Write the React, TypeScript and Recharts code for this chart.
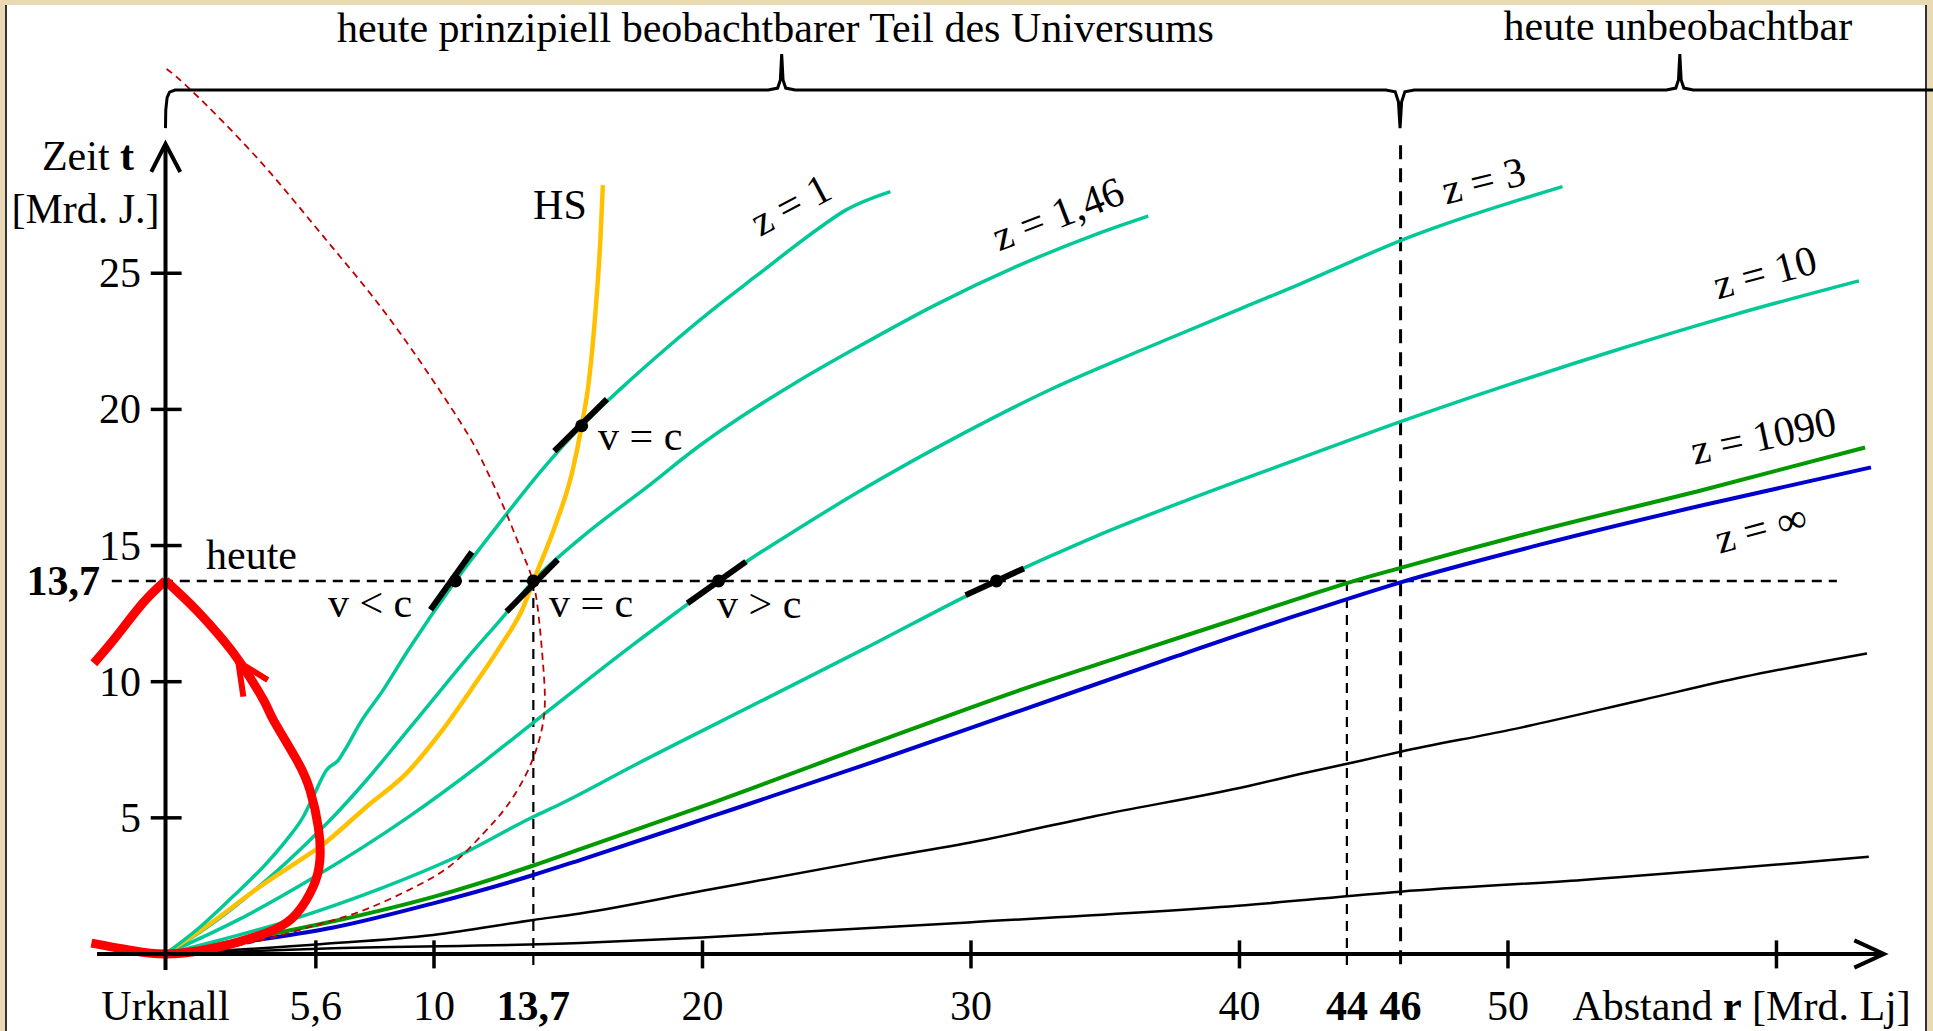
import React from 'react';
import { ComposedChart, Line, XAxis, YAxis, ReferenceLine, ReferenceDot } from 'recharts';

const W = 1933;
const H = 1031;
const FONT = "'Liberation Serif', 'Times New Roman', serif";

// r = Abstand [Mrd. Lj], t = Zeit [Mrd. J.]
const rDomain: [number, number] = [-6.164, 65.83];
const tDomain: [number, number] = [-2.828, 35.035];

const rTicks = [5.6, 10, 20, 30, 40, 50, 60];
const tTicks = [5, 10, 15, 20, 25];
const rLabelVals = [0, 5.6, 10, 13.7, 20, 30, 40, 44, 46, 50];
const rLabelText = ['Urknall', '5,6', '10', '13,7', '20', '30', '40', '44', '46', '50'];
const rLabelBold = [false, false, false, true, false, false, false, true, true, false];

const T_NOW = 13.7;

// world lines of galaxies (redshift z seen today)
const z1R = [0, 1.3, 2.5, 3.64, 4.51, 5.13, 5.5, 6.0, 6.44, 6.75, 7.24, 8.11, 9.0, 10.8, 12.5, 14.0, 15.5, 17.0, 18.6, 20.3, 22.0, 24.4, 25.3, 27.0];
const z1T = [0, 1.0, 2.1, 3.2, 4.19, 5.04, 5.78, 6.76, 7.12, 7.61, 8.47, 9.7, 11.1, 13.7, 15.9, 17.75, 19.4, 20.8, 22.2, 23.6, 24.9, 26.7, 27.3, 28.0];

const z146R = [0, 1.5, 3.77, 5.26, 6.25, 7.49, 8.73, 9.97, 11.22, 12.5, 13.7, 15.5, 18.0, 19.8, 21.4, 23.5, 25.8, 28.7, 31.7, 34.7, 36.6];
const z146T = [0, 0.95, 2.72, 4.07, 5.04, 6.39, 7.86, 9.35, 10.85, 12.3, 13.7, 15.3, 17.2, 18.6, 19.7, 21.0, 22.3, 23.85, 25.25, 26.45, 27.1];

const z3R = [0, 2.5, 5.5, 9.0, 11.84, 13.7, 15.44, 17.54, 19.44, 20.6, 21.7, 23.37, 25.86, 29.68, 33.0, 36.4, 40.16, 42.25, 44.1, 46.0, 47.36, 52.03];
const z3T = [0, 1.15, 2.8, 5.0, 7.05, 8.5, 9.85, 11.45, 12.85, 13.7, 14.45, 15.5, 17.0, 19.1, 20.75, 22.2, 23.75, 24.6, 25.4, 26.2, 26.7, 28.18];

const z10R = [0, 4.5, 8.0, 10.84, 13.7, 14.69, 17.5, 22.29, 26.09, 29.89, 30.95, 32.93, 34.67, 38, 42.25, 46, 50, 54.1, 58.5, 63.07];
const z10T = [0, 1.2, 2.4, 3.57, 5.04, 5.5, 6.95, 9.34, 11.24, 13.18, 13.7, 14.6, 15.35, 16.65, 18.2, 19.55, 20.9, 22.2, 23.5, 24.72];

const z1090R = [0, 3, 6.25, 9.97, 13.7, 15.44, 20.39, 26.09, 31.79, 35.59, 40.34, 42.25, 44.1, 46, 51.27, 57.29, 63.3];
const z1090T = [0, 0.55, 1.2, 2.1, 3.25, 3.85, 5.56, 7.64, 9.68, 10.92, 12.45, 13.07, 13.65, 14.18, 15.58, 17.05, 18.6];

const zInfR = [0, 3, 6.25, 9.97, 13.7, 15.44, 20.39, 26.09, 31.79, 37.49, 42.25, 46, 51.27, 57.29, 63.52];
const zInfT = [0, 0.45, 0.97, 1.86, 2.9, 3.45, 5.07, 6.96, 8.92, 10.88, 12.47, 13.65, 15.05, 16.49, 17.87];

const upperR = [0, 5.75, 9.97, 13.7, 15.44, 20.01, 26.09, 30.26, 34.64, 40.34, 42.25, 44.48, 46, 50.07, 55.0, 58.79, 63.37];
const upperT = [0, 0.36, 0.7, 1.25, 1.49, 2.32, 3.42, 4.15, 5.07, 6.17, 6.61, 7.09, 7.43, 8.23, 9.33, 10.18, 11.04];

const lowerR = [0, 6.25, 15.44, 20.01, 29.89, 39.94, 46, 52.78, 63.44];
const lowerT = [0, 0.21, 0.4, 0.61, 1.16, 1.77, 2.29, 2.72, 3.57];

// Hubble-Sphäre
const hsR = [0, 1.5, 3.52, 5.01, 5.75, 7.49, 8.98, 10.22, 11.46, 12.46, 13.33, 13.7, 14.54, 15.16, 15.5, 15.77, 16.02, 16.2, 16.29];
const hsT = [0, 1.0, 2.47, 3.45, 3.94, 5.41, 6.64, 8.1, 9.82, 11.29, 12.75, 13.7, 15.8, 17.75, 19.4, 21.04, 23.65, 26.28, 28.24];

// thin dashed red curve
const coneR = [0.04, 1.02, 3.48, 5.94, 8.4, 10.86, 11.8, 12.6, 13.2, 13.55, 13.75, 13.9, 14.07, 14.12, 13.9, 13.45, 12.7, 11.84, 10.72, 9.36, 7.49, 5.75, 3.77, 1.9, 0];
const coneT = [32.5, 31.66, 29.16, 26.28, 23.26, 19.72, 18.1, 16.4, 14.95, 14.1, 13.4, 12.4, 10.55, 9.0, 7.8, 6.64, 5.41, 4.43, 3.33, 2.5, 1.65, 1.1, 0.55, 0.18, 0];

// thick red past light cone
const pastLeftR = [-2.67, -1.84, -0.85, 0];
const pastLeftT = [10.68, 11.65, 12.88, 13.71];
const pastRightR = [0, 1.15, 2.15, 2.8, 3.65, 4.02, 4.89, 5.38, 5.69, 5.75, 5.5, 4.89, 4.02, 2.53, 1.28, 0, -1.2, -2.76];
const pastRightT = [13.71, 12.63, 11.53, 10.68, 9.33, 8.59, 7.12, 6.02, 4.67, 3.45, 2.47, 1.49, 0.88, 0.39, 0.12, 0, 0.12, 0.4];
const arrowR = [2.9, 2.71, 3.81];
const arrowT = [9.45, 10.73, 10.06];

// marked points with their short tangent bars
const markR = [10.8, 13.7, 15.5, 20.6, 30.95];
const markT = [13.7, 13.7, 19.4, 13.7, 13.7];
const barR0 = [9.87, 12.7, 14.48, 19.44, 29.8];
const barT0 = [12.64, 12.57, 18.47, 12.88, 13.18];
const barR1 = [11.41, 14.61, 16.44, 21.62, 31.97];
const barT1 = [14.76, 14.48, 20.38, 14.41, 14.16];

// braces along the top
const braceR = [0, 0.01, 0.06, 0.15, 0.35, 22.45, 22.8, 22.9, 22.95, 23.0, 23.1, 23.45, 45.45, 45.8, 45.92, 45.98, 46.04, 46.16, 46.51, 55.9, 56.25, 56.35, 56.4, 56.45, 56.55, 56.9, 65.83];
const braceT = [30.33, 31.0, 31.45, 31.65, 31.73, 31.73, 31.8, 32.1, 33.05, 32.1, 31.8, 31.73, 31.73, 31.66, 31.3, 30.33, 31.3, 31.66, 31.73, 31.73, 31.8, 32.1, 33.05, 32.1, 31.8, 31.73, 31.73];

const zip = (r: number[], t: number[]) => r.map((x, i) => ({ x, y: t[i] }));

const TEAL = '#00C896';

const curves = [
  { id: 'lower', r: lowerR, t: lowerT, color: '#000', w: 2.5 },
  { id: 'upper', r: upperR, t: upperT, color: '#000', w: 2.5 },
  { id: 'zinf', r: zInfR, t: zInfT, color: '#0000CC', w: 4 },
  { id: 'z1090', r: z1090R, t: z1090T, color: '#009900', w: 4 },
  { id: 'z10', r: z10R, t: z10T, color: TEAL, w: 3.5 },
  { id: 'z3', r: z3R, t: z3T, color: TEAL, w: 3.5 },
  { id: 'z146', r: z146R, t: z146T, color: TEAL, w: 3.5 },
  { id: 'hs', r: hsR, t: hsT, color: '#FFC000', w: 4.5 },
  { id: 'z1', r: z1R, t: z1T, color: TEAL, w: 3.5 },
  { id: 'cone', r: coneR, t: coneT, color: '#C00000', w: 1.8, type: 'natural', dash: '7 5' },
  { id: 'pastL', r: pastLeftR, t: pastLeftT, color: '#FF0000', w: 9, type: 'natural' },
  { id: 'pastR', r: pastRightR, t: pastRightT, color: '#FF0000', w: 9, type: 'natural' },
  { id: 'arrow', r: arrowR, t: arrowT, color: '#FF0000', w: 6, type: 'linear' },
  { id: 'brace', r: braceR, t: braceT, color: '#000', w: 3, type: 'linear' },
  { id: 'tArrow', r: [-0.53, 0, 0.55], t: [28.72, 29.75, 28.72], color: '#000', w: 4, type: 'linear' },
  { id: 'rArrow', r: [62.9, 64.0, 62.9], t: [0.5, 0, -0.5], color: '#000', w: 4, type: 'linear' },
];

type TxtOpts = { anchor?: 'start' | 'middle' | 'end'; rotate?: number; bold?: boolean; central?: boolean; size?: number };

const txt = (content: React.ReactNode, o: TxtOpts = {}) => (p: any) => (
  <text
    x={p.cx}
    y={p.cy}
    textAnchor={o.anchor ?? 'start'}
    dominantBaseline={o.central ? 'central' : 'alphabetic'}
    fontFamily={FONT}
    fontSize={o.size ?? 42}
    fontWeight={o.bold ? 'bold' : 'normal'}
    fill="#000"
    transform={o.rotate ? `rotate(${o.rotate} ${p.cx} ${p.cy})` : undefined}
  >
    {content}
  </text>
);

const note = (key: string, x: number, y: number, content: React.ReactNode, o: TxtOpts = {}) => (
  <ReferenceDot key={key} x={x} y={y} r={0} ifOverflow="visible" shape={txt(content, o)} />
);

const Diagram = () => (
  <ComposedChart width={W} height={H} margin={{ top: 0, right: 0, bottom: 0, left: 0 }}>
    <XAxis type="number" dataKey="x" domain={rDomain} allowDataOverflow hide />
    <YAxis type="number" domain={tDomain} allowDataOverflow hide />

    {/* dashed helper lines */}
    <ReferenceLine segment={[{ x: -2.0, y: T_NOW }, { x: 62.25, y: T_NOW }]} stroke="#000" strokeWidth={2.5} strokeDasharray="10 7" ifOverflow="visible" />
    <ReferenceLine segment={[{ x: 13.7, y: T_NOW }, { x: 13.7, y: -0.5 }]} stroke="#000" strokeWidth={2.2} strokeDasharray="10 7" ifOverflow="visible" />
    <ReferenceLine segment={[{ x: 44, y: T_NOW }, { x: 44, y: -0.5 }]} stroke="#000" strokeWidth={2.2} strokeDasharray="10 7" ifOverflow="visible" />
    <ReferenceLine segment={[{ x: 46, y: 29.7 }, { x: 46, y: -0.5 }]} stroke="#000" strokeWidth={3} strokeDasharray="14 9" ifOverflow="visible" />

    {curves.map((c) => (
      <Line
        key={c.id}
        data={zip(c.r, c.t)}
        dataKey="y"
        type={(c.type as any) ?? 'monotone'}
        stroke={c.color}
        strokeWidth={c.w}
        strokeDasharray={c.dash}
        strokeLinejoin="miter"
        dot={false}
        activeDot={false}
        legendType="none"
        isAnimationActive={false}
      />
    ))}

    {/* axes */}
    <ReferenceLine segment={[{ x: -2.55, y: 0 }, { x: 64.0, y: 0 }]} stroke="#000" strokeWidth={4} ifOverflow="visible" />
    <ReferenceLine segment={[{ x: 0, y: -0.59 }, { x: 0, y: 29.75 }]} stroke="#000" strokeWidth={4} ifOverflow="visible" />
    {rTicks.map((v) => (
      <ReferenceLine key={`rt${v}`} segment={[{ x: v, y: -0.53 }, { x: v, y: 0.5 }]} stroke="#000" strokeWidth={3.5} ifOverflow="visible" />
    ))}
    {tTicks.map((v) => (
      <ReferenceLine key={`tt${v}`} segment={[{ x: -0.55, y: v }, { x: 0.6, y: v }]} stroke="#000" strokeWidth={3.5} ifOverflow="visible" />
    ))}

    {/* marked points */}
    {markR.map((x, i) => (
      <ReferenceLine key={`bar${i}`} segment={[{ x: barR0[i], y: barT0[i] }, { x: barR1[i], y: barT1[i] }]} stroke="#000" strokeWidth={6} ifOverflow="visible" />
    ))}
    {markR.map((x, i) => (
      <ReferenceDot key={`dot${i}`} x={x} y={markT[i]} r={6.5} fill="#000" stroke="none" ifOverflow="visible" />
    ))}

    {/* texts */}
    {note('title1', 22.72, 33.49, 'heute prinzipiell beobachtbarer Teil des Universums', { anchor: 'middle' })}
    {note('title2', 56.33, 33.57, 'heute unbeobachtbar', { anchor: 'middle' })}
    {note('zeit', -1.17, 28.79, <>Zeit <tspan fontWeight="bold">t</tspan></>, { anchor: 'end' })}
    {note('mrdj', -2.98, 26.85, '[Mrd. J.]', { anchor: 'middle' })}
    {tTicks.map((v) => note(`tl${v}`, -0.91, v, String(v), { anchor: 'end', central: true }))}
    {note('now', -2.44, T_NOW, '13,7', { anchor: 'end', central: true, bold: true })}
    {rLabelVals.map((v, i) => note(`rl${i}`, v, -2.43, rLabelText[i], { anchor: 'middle', bold: rLabelBold[i] }))}
    {note('abstand', 52.4, -2.43, <>Abstand <tspan fontWeight="bold">r</tspan> [Mrd. Lj]</>)}
    {note('heute', 1.51, 14.15, 'heute')}
    {note('hs', 13.69, 27.0, 'HS')}
    {note('vlc', 6.05, 12.39, 'v < c')}
    {note('veq1', 14.28, 12.39, 'v = c')}
    {note('veq2', 16.11, 18.51, 'v = c')}
    {note('vgc', 20.54, 12.33, 'v > c')}
    {note('lz1', 23.28, 27.51, 'z = 1', { anchor: 'middle', central: true, rotate: -28 })}
    {note('lz146', 33.24, 27.18, 'z = 1,46', { anchor: 'middle', central: true, rotate: -21 })}
    {note('lz3', 49.09, 28.4, 'z = 3', { anchor: 'middle', central: true, rotate: -14 })}
    {note('lz10', 59.57, 25.03, 'z = 10', { anchor: 'middle', central: true, rotate: -15 })}
    {note('lz1090', 59.51, 19.03, 'z = 1090', { anchor: 'middle', central: true, rotate: -12 })}
    {note('lzinf', 59.42, 15.64, 'z = ∞', { anchor: 'middle', central: true, rotate: -15 })}
  </ComposedChart>
);

export default function App() {
  return (
    <div style={{ position: 'absolute', left: 0, top: 0, width: W, height: H, background: '#E9DAB3', overflow: 'hidden' }}>
      <div
        style={{
          position: 'absolute',
          left: 5,
          top: 5,
          width: 1918,
          height: H - 5,
          background: '#fff',
          borderLeft: '2px solid #333',
          borderRight: '2px solid #333',
        }}
      />
      <div style={{ position: 'absolute', left: 0, top: 0 }}>
        <Diagram />
      </div>
    </div>
  );
}
